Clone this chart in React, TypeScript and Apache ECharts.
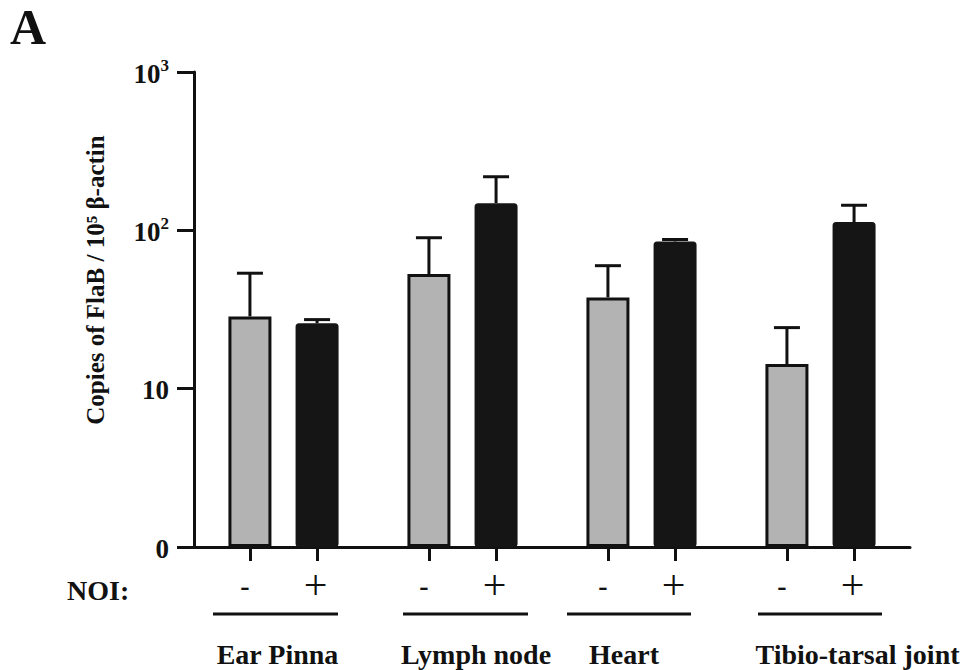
import React, { useEffect, useRef } from "react";
import * as echarts from "echarts";

// ---- data ----
const groups = ["Ear Pinna", "Lymph node", "Heart", "Tibio-tarsal joint"];
const noiLabels = ["-", "+"];
const withoutNOI = [28.6, 52.9, 37.7, 14.3]; // grey bars (mean)
const withoutNOIErr = [25, 36.9, 22.1, 10];
const withNOI = [25.9, 148.5, 85.1, 112.7]; // black bars (mean)
const withNOIErr = [1.4, 69.5, 2.4, 31.3];
const yTickBase: Record<number, string> = { 1: "0", 10: "10", 100: "10", 1000: "10" };
const yTickSup: Record<number, string> = { 1: "", 10: "", 100: "2", 1000: "3" };
const yTitle = "Copies of FlaB / 10⁵ β-actin";
const panelLetter = "A";
const noiTitle = "NOI:";

const FONT = "'Liberation Serif', 'Times New Roman', serif";
const GREY = "#b3b3b3";
const DARK = "#151515";

// layout of slots on the x axis (slot units)
const negPos = groups.map((_, i) => 2.5 + 8 * i);
const posPos = groups.map((_, i) => 5.5 + 8 * i);
const allPos = [...negPos, ...posPos].sort((a, b) => a - b);

export default function App() {
  const ref = useRef<HTMLDivElement>(null);
  useEffect(() => {
    if (!ref.current) return;
    const chart = echarts.init(ref.current, undefined, { renderer: "svg" });

    const barData: any[] = [];
    const errData: any[] = [];
    groups.forEach((_, i) => {
      barData.push({
        value: [negPos[i], withoutNOI[i]],
        itemStyle: { color: GREY, borderColor: "#111", borderWidth: 3 },
      });
      barData.push({
        value: [posPos[i], withNOI[i]],
        itemStyle: { color: DARK, borderColor: DARK, borderWidth: 3, borderRadius: 2 },
      });
      errData.push([negPos[i], withoutNOI[i] + withoutNOIErr[i], withoutNOI[i]]);
      errData.push([posPos[i], withNOI[i] + withNOIErr[i], withNOI[i]]);
    });

    const underlines = [
      [213, 338],
      [403, 528],
      [567, 691],
      [758, 882],
    ];
    const groupLabelX = [277.5, 476, 624, 857.5];

    const graphic: any[] = [
      {
        type: "text",
        left: 10,
        top: 2,
        style: { text: panelLetter, font: `bold 50px ${FONT}`, fill: "#111" },
      },
      {
        type: "text",
        x: 95,
        y: 280,
        rotation: Math.PI / 2,
        style: {
          text: yTitle,
          font: `bold 25px ${FONT}`,
          fill: "#111",
          align: "center",
          verticalAlign: "middle",
        },
      },
      {
        type: "text",
        x: 67,
        y: 590,
        style: {
          text: noiTitle,
          font: `bold 28px ${FONT}`,
          fill: "#111",
          align: "left",
          verticalAlign: "middle",
        },
      },
      ...underlines.map(([a, b]) => ({
        type: "line",
        shape: { x1: a, y1: 614, x2: b, y2: 614 },
        style: { stroke: "#111", lineWidth: 3 },
      })),
      ...groups.map((g, i) => ({
        type: "text",
        x: groupLabelX[i],
        y: 654,
        style: {
          text: g,
          font: `bold 28px ${FONT}`,
          fill: "#111",
          align: "center",
          verticalAlign: "middle",
        },
      })),
    ];

    chart.setOption({
      animation: false,
      backgroundColor: "#fff",
      grid: { left: 194, right: 55, top: 72, bottom: 123, containLabel: false },
      xAxis: {
        type: "value",
        min: 0,
        max: 32,
        axisLine: { onZero: false, lineStyle: { color: "#111", width: 3 } },
        axisTick: {
          show: true,
          customValues: allPos,
          length: 14,
          lineStyle: { color: "#111", width: 3 },
        },
        axisLabel: {
          show: true,
          customValues: allPos,
          margin: 21,
          formatter: (v: number) =>
            negPos.some((p) => Math.abs(p - v) < 1e-6)
              ? `{m|${noiLabels[0]}}`
              : `{p|${noiLabels[1]}}`,
          rich: {
            m: { fontFamily: FONT, fontSize: 28, fontWeight: "bold", color: "#111", lineHeight: 34, padding: [0, 10, 0, 0] },
            p: { fontFamily: FONT, fontSize: 42, fontWeight: "normal", color: "#111", lineHeight: 34, padding: [0, 3, 0, 0] },
          },
        },
        splitLine: { show: false },
      },
      yAxis: {
        type: "log",
        logBase: 10,
        min: 1,
        max: 1000,
        axisLine: { show: true, lineStyle: { color: "#111", width: 3 } },
        axisTick: { show: true, length: 17, lineStyle: { color: "#111", width: 3 } },
        minorTick: { show: false },
        splitLine: { show: false },
        axisLabel: {
          margin: 25,
          formatter: (v: number) => {
            const k = Math.round(v);
            const sup = yTickSup[k] ?? "";
            return `{b|${yTickBase[k] ?? ""}}` + (sup ? `{s|${sup}}` : "");
          },
          rich: {
            b: { fontFamily: FONT, fontSize: 27, fontWeight: "bold", color: "#111", lineHeight: 30, verticalAlign: "bottom" },
            s: { fontFamily: FONT, fontSize: 17, fontWeight: "bold", color: "#111", lineHeight: 17, verticalAlign: "top" },
          },
        },
      },
      series: [
        {
          type: "bar",
          data: barData,
          barWidth: 43,
          z: 2,
        },
        {
          type: "custom",
          z: 3,
          data: errData,
          encode: { x: 0, y: 1 },
          renderItem: (params: any, api: any) => {
            const x = api.value(0);
            const top = api.coord([x, api.value(1)]);
            const base = api.coord([x, api.value(2)]);
            const style = { stroke: "#111", lineWidth: 3 };
            return {
              type: "group",
              children: [
                { type: "line", shape: { x1: base[0], y1: base[1], x2: top[0], y2: top[1] }, style },
                { type: "line", shape: { x1: top[0] - 13, y1: top[1], x2: top[0] + 13, y2: top[1] }, style },
              ],
            };
          },
        },
      ],
      graphic,
    });

    return () => chart.dispose();
  }, []);

  return (
    <div
      ref={ref}
      style={{ position: "absolute", left: 0, top: 0, width: 965, height: 670 }}
    />
  );
}
